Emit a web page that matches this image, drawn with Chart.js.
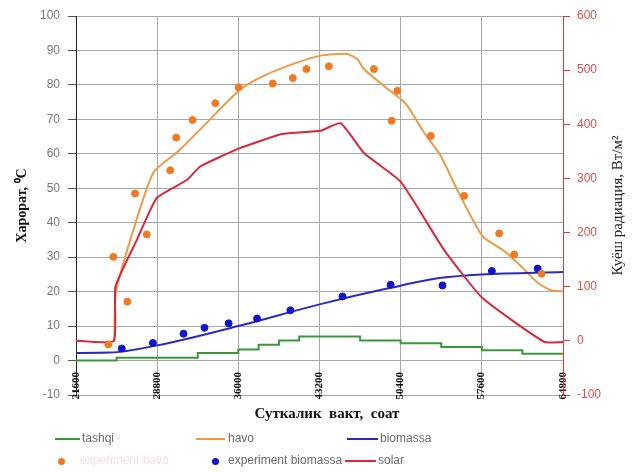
<!DOCTYPE html>
<html lang="uz">
<head>
<meta charset="UTF-8">
<title>Харорат ва куёш радиацияси</title>
<script src="https://cdn.jsdelivr.net/npm/chart.js"></script>
<style>
    body { margin: 0; background: #fff; }
    .wrap { position: relative; width: 632px; height: 472px; }
    .legend { position: absolute; left: 0; top: 0; width: 632px; height: 472px; pointer-events: none;
              font-family: "Liberation Sans", sans-serif; font-size: 12px; color: #6a6a6a; }
    .legend span { position: absolute; white-space: nowrap; line-height: 14px; }
    .legend i { position: absolute; display: block; }
</style>
</head>
<body>
<div class="wrap">
    <canvas id="chart" width="632" height="472"></canvas>
    <div class="legend" id="legend"></div>
</div>

<script>
    // vaqt, soniya
    const xTicks = [21600, 28800, 36000, 43200, 50400, 57600, 64800];

    // tashqi harorat (zinapoya)
    const tashqiT = [21600, 25200, 32400, 36000, 37800, 39600, 41400, 46800, 50400, 54000, 57600, 61200, 64800];
    const tashqiV = [0, 0.8, 2.2, 3.2, 4.6, 5.8, 7, 5.8, 5, 3.9, 3, 2, 2];

    // havo harorati (model)
    const havoT = [25000, 25150, 26840, 28470, 30690, 32920, 36030, 37660, 40030, 43290, 45660, 46550, 47140, 48920, 50400, 51000, 52470, 53960, 55440, 57660, 59580, 61070, 62550, 63730, 64800];
    const havoV = [5.5, 20, 39.5, 54.6, 60.8, 68.1, 78.3, 81.7, 85.1, 88.5, 89, 87.5, 84.6, 79.7, 75.9, 73.9, 66.2, 59.4, 49.4, 36.1, 31.8, 27.4, 22.6, 20.4, 20.1];

    // biomassa harorati (model)
    const bioT = [21600, 24600, 28800, 36000, 43200, 49500, 54000, 57600, 64800];
    const bioV = [2.2, 2.3, 4.4, 10, 16.3, 21.1, 24, 25, 25.7];

    // tajriba nuqtalari: havo
    const expHavoT = [24470, 24920, 26160, 26840, 27880, 29960, 30490, 31940, 33960, 36030, 39050, 40830, 42040, 44030, 48030, 49600, 50110, 53070, 56030, 59140, 60470, 62900];
    const expHavoV = [4.7, 30.1, 17.1, 48.5, 36.6, 55.2, 64.7, 69.8, 74.7, 79.3, 80.4, 82, 84.6, 85.4, 84.6, 69.6, 78.3, 65.2, 47.8, 36.9, 30.8, 25.2];

    // tajriba nuqtalari: biomassa
    const expBioT = [25660, 28420, 31140, 33000, 35140, 37660, 40620, 45240, 49510, 54110, 58490, 62550];
    const expBioV = [3.5, 5.1, 7.8, 9.5, 10.8, 12.2, 14.6, 18.6, 22, 21.8, 26, 26.7];

    // quyosh radiatsiyasi, Vt/m2
    const solarT = [21600, 24950, 25100, 26990, 28770, 31440, 32620, 36030, 39880, 43290, 45070, 47140, 50400, 54250, 57660, 63140, 64800];
    const solarV = [0, 0, 100, 186, 264, 297, 322, 355, 382, 388, 402, 347, 294, 168, 79, -2, -2];

    const pts = (t, v) => t.map((x, i) => ({ x, y: v[i] }));

    const C = {
        green: "#3a983a",
        orangeLine: "#ec9a48",
        orangeDot: "#f07a22",
        blue: "#2a2ac0",
        blueDot: "#1414c8",
        red: "#d8283a"
    };

    // o'ng o'q sarlavhasi pastdan yuqoriga yoziladi
    const rightTitle = {
        id: "rightTitle",
        afterDraw(chart) {
            const { ctx, chartArea } = chart;
            ctx.save();
            ctx.translate(618, (chartArea.top + chartArea.bottom) / 2);
            ctx.rotate(-Math.PI / 2);
            ctx.font = "15px 'Liberation Serif', serif";
            ctx.fillStyle = "#222";
            ctx.textAlign = "center";
            ctx.textBaseline = "middle";
            ctx.fillText("Куёш радиация, Вт/м²", 0, 0);
            ctx.restore();
        }
    };

    new Chart(document.getElementById("chart"), {
        type: "line",
        data: {
            datasets: [
                { label: "tashqi", data: pts(tashqiT, tashqiV), borderColor: C.green, borderWidth: 2, stepped: true, pointRadius: 0, yAxisID: "y", order: 5 },
                { label: "havo", data: pts(havoT, havoV), borderColor: C.orangeLine, borderWidth: 2, pointRadius: 0, tension: 0.2, yAxisID: "y", order: 4 },
                { label: "biomassa", data: pts(bioT, bioV), borderColor: C.blue, borderWidth: 2, pointRadius: 0, cubicInterpolationMode: "monotone", yAxisID: "y", order: 3 },
                { label: "experiment havo", data: pts(expHavoT, expHavoV), showLine: false, pointRadius: 3.5, pointBackgroundColor: C.orangeDot, pointBorderColor: C.orangeDot, yAxisID: "y", order: 1 },
                { label: "experiment biomassa", data: pts(expBioT, expBioV), showLine: false, pointRadius: 3.5, pointBackgroundColor: C.blueDot, pointBorderColor: C.blueDot, yAxisID: "y", order: 1 },
                { label: "solar", data: pts(solarT, solarV), borderColor: C.red, borderWidth: 2, pointRadius: 0, tension: 0.15, yAxisID: "y1", order: 2 }
            ]
        },
        options: {
            responsive: false,
            animation: false,
            layout: { padding: { top: 16, bottom: 47, left: 0, right: 0 } },
            plugins: { legend: { display: false }, tooltip: { enabled: false } },
            scales: {
                x: {
                    type: "linear",
                    min: 21600,
                    max: 64800,
                    afterBuildTicks: s => { s.ticks = xTicks.map(v => ({ value: v })); },
                    afterFit: s => { s.height = 30; },
                    ticks: {
                        autoSkip: false, minRotation: 90, maxRotation: 90, mirror: true, padding: 23, labelOffset: 13,
                        callback: v => String(v),
                        color: "#111", font: { family: "'Liberation Serif', serif", size: 11, weight: "bold" }
                    },
                    grid: { color: "#a8a8a8", drawTicks: false },
                    border: { color: "#a8a8a8" },
                    title: {
                        display: true, text: "    Суткалик  вакт,  соат", color: "#111",
                        font: { family: "'Liberation Serif', serif", size: 15, weight: "bold" },
                        padding: { top: 0, bottom: 2 }
                    }
                },
                y: {
                    position: "left",
                    min: -10, max: 100,
                    afterFit: s => { s.width = 76; },
                    ticks: { stepSize: 10, padding: 8, color: "#777", font: { family: "'Liberation Sans', sans-serif", size: 12 } },
                    grid: { color: "#a8a8a8", tickLength: 8, tickColor: "#555" },
                    border: { color: "#222" },
                    title: {
                        display: true, text: "Харорат, ⁰C", color: "#111",
                        font: { family: "'Liberation Serif', serif", size: 14, weight: "bold" },
                        padding: { top: 14, bottom: 0 }
                    }
                },
                y1: {
                    position: "right",
                    min: -100, max: 600,
                    afterFit: s => { s.width = 69; },
                    ticks: { stepSize: 100, padding: 7, color: "#e05050", font: { family: "'Liberation Sans', sans-serif", size: 12 } },
                    grid: { drawOnChartArea: false, tickLength: 7, color: "#e03a3a" },
                    border: { color: "#e03a3a" }
                }
            }
        },
        plugins: [rightTitle]
    });

    // legend (Excel uslubida, ikki qator)
    const legendItems = [
        { kind: "line", color: C.green, x: 55, w: 25, y: 439, text: "tashqi", tx: 82 },
        { kind: "line", color: C.orangeLine, x: 196, w: 29, y: 439, text: "havo", tx: 228 },
        { kind: "line", color: C.blue, x: 347, w: 31, y: 439, text: "biomassa", tx: 380 },
        { kind: "dot", color: C.orangeDot, x: 61, y: 461, text: "experiment havo", tx: 80, textColor: "#f6dede" },
        { kind: "dot", color: C.blueDot, x: 215, y: 461, text: "experiment biomassa", tx: 228 },
        { kind: "line", color: C.red, x: 345, w: 31, y: 461, text: "solar", tx: 378 }
    ];
    const lg = document.getElementById("legend");
    legendItems.forEach(it => {
        const m = document.createElement("i");
        if (it.kind === "line") {
            Object.assign(m.style, { left: it.x + "px", top: (it.y - 1) + "px", width: it.w + "px", height: "2px", background: it.color });
        } else {
            Object.assign(m.style, { left: (it.x - 3.5) + "px", top: (it.y - 3.5) + "px", width: "7px", height: "7px", borderRadius: "50%", background: it.color });
        }
        lg.appendChild(m);
        const s = document.createElement("span");
        s.textContent = it.text;
        Object.assign(s.style, { left: it.tx + "px", top: (it.y - 8) + "px" });
        if (it.textColor) s.style.color = it.textColor;
        lg.appendChild(s);
    });
</script>
</body>
</html>
